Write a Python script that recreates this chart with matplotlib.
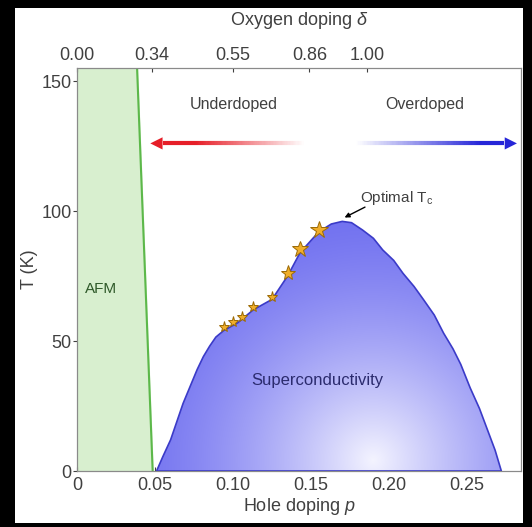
import numpy as np
import matplotlib
matplotlib.use("Agg")
import matplotlib.pyplot as plt
from matplotlib.patches import Polygon, Rectangle
from matplotlib.collections import LineCollection
from matplotlib.colors import LinearSegmentedColormap

plt.rcParams['font.family'] = ['Liberation Sans', 'DejaVu Sans']
plt.rcParams['mathtext.fontset'] = 'custom'
plt.rcParams['mathtext.it'] = 'Liberation Sans:italic'
plt.rcParams['mathtext.rm'] = 'Liberation Sans'

# superconducting dome outline (hole doping p, Tc in K)
dome_p = [0.051, 0.055, 0.060, 0.068, 0.077, 0.081, 0.085, 0.089, 0.094,
          0.103, 0.113, 0.125, 0.135, 0.143, 0.155, 0.163, 0.170, 0.176,
          0.183, 0.190, 0.196, 0.203, 0.209, 0.216, 0.222, 0.229, 0.235,
          0.241, 0.246, 0.252, 0.258, 0.263, 0.268, 0.272]
dome_T = [0, 5.5, 12, 26, 39, 44, 48, 51.5, 54,
          57, 62, 66, 75, 84, 92, 95, 96, 95.5,
          92.7, 89.5, 85, 81, 76, 71, 66, 60, 53,
          47, 41, 32, 24, 16, 8, 0]

# measured samples (stars)
star_p = [0.094, 0.100, 0.106, 0.113, 0.125, 0.135, 0.143, 0.155]
star_T = [55.5, 57.4, 59.1, 63.2, 66.8, 76.0, 85.3, 92.7]

# AFM boundary line (p at T=0 and at top)
afm_p = [0.0485, 0.0385]
afm_T = [0, 155]

x_ticks = [0, 0.05, 0.10, 0.15, 0.20, 0.25]
x_labels = ['0', '0.05', '0.10', '0.15', '0.20', '0.25']
y_ticks = [0, 50, 100, 150]
top_ticks = [0, 0.048, 0.100, 0.149, 0.186]
top_labels = ['0.00', '0.34', '0.55', '0.86', '1.00']

W, H = 532, 527
fig = plt.figure(figsize=(W / 100, H / 100), dpi=100)
fig.patch.set_facecolor('black')
fig.add_artist(Rectangle((15 / W, 4 / H), 508 / W, 515 / H,
                         transform=fig.transFigure, facecolor='white',
                         edgecolor='none', zorder=-10))

ax = fig.add_axes([77 / W, 1 - 471 / H, 444 / W, 403 / H])
ax.set_xlim(0, 0.2846)
ax.set_ylim(0, 155)
txt = '#404040'
spine_c = '#8a8a8a'

# AFM region
ax.fill_betweenx(afm_T, 0, afm_p, color='#d8efcf', zorder=1)
ax.plot(afm_p, afm_T, color='#5cb84a', lw=1.5, zorder=2)
ax.text(0.0155, 70, 'AFM', color='#2f5a2a', fontsize=11, ha='center', va='center')

# dome with radial gradient fill
poly = Polygon(np.column_stack([dome_p, dome_T]), closed=True,
               facecolor='none', edgecolor='#3b3bc8', lw=1.2, zorder=4)
ax.add_patch(poly)
gp = np.linspace(0.04, 0.28, 400)
gT = np.linspace(0, 100, 300)
PP, TT = np.meshgrid(gp, gT)
d = np.hypot((PP - 0.19) * 1560, (TT - 4) * 2.6)
w = np.clip(1 - d / 260, 0, 1) ** 1.5
blue = np.array([112, 112, 240]) / 255
white = np.array([244, 244, 255]) / 255
img = blue[None, None, :] * (1 - w[..., None]) + white[None, None, :] * w[..., None]
im = ax.imshow(img, extent=[0.04, 0.28, 0, 100], origin='lower',
               aspect='auto', zorder=3)
im.set_clip_path(poly)

ax.text(0.154, 35, 'Superconductivity', color='#2b2b6e', fontsize=12,
        ha='center', va='center', zorder=6)

# stars
star_sizes = [8, 8, 8, 8, 8, 11, 12, 13]
for p, T, s in zip(star_p, star_T, star_sizes):
    ax.plot(p, T, marker='*', ms=s, color='#f0ae2a', mec='#9c6a05',
            mew=0.7, zorder=7)

# optimal Tc annotation
ax.text(0.205, 105, 'Optimal T$_\\mathrm{c}$', fontsize=11, color=txt,
        ha='center', va='center')
ax.annotate('', xy=(0.1715, 97.5), xytext=(0.1846, 101.5),
            arrowprops=dict(arrowstyle='-|>', color='black', lw=1,
                            mutation_scale=7, shrinkA=0, shrinkB=0))

# gradient arrow underdoped/overdoped
x0, x1, ya = 0.047, 0.282, 126
cmap = LinearSegmentedColormap.from_list('rb', [
    (0, '#e61e28'), (0.12, '#e61e28'), (0.42, '#ffffff'),
    (0.56, '#ffffff'), (0.9, '#2626d8'), (1, '#2626d8')])
xs = np.linspace(x0 + 0.008, x1 - 0.008, 300)
segs = [[(xs[i], ya), (xs[i + 1], ya)] for i in range(len(xs) - 1)]
cols = cmap((xs[:-1] - x0) / (x1 - x0))
ax.add_collection(LineCollection(segs, colors=cols, lw=3, zorder=5))
ax.annotate('', xy=(x0, ya), xytext=(x0 + 0.012, ya),
            arrowprops=dict(arrowstyle='-|>', color='#e61e28', lw=0,
                            mutation_scale=22, shrinkA=0, shrinkB=0))
ax.annotate('', xy=(x1, ya), xytext=(x1 - 0.012, ya),
            arrowprops=dict(arrowstyle='-|>', color='#2626d8', lw=0,
                            mutation_scale=22, shrinkA=0, shrinkB=0))
ax.text(0.1006, 141, 'Underdoped', color=txt, fontsize=11.5, ha='center', va='center')
ax.text(0.223, 141, 'Overdoped', color=txt, fontsize=11.5, ha='center', va='center')

# axes
ax.set_xticks(x_ticks)
ax.set_xticklabels(x_labels)
ax.set_yticks(y_ticks)
ax.tick_params(axis='x', direction='in', length=3, labelsize=13, colors=txt, pad=4)
ax.tick_params(axis='y', direction='out', length=3, labelsize=13, colors=txt, pad=1)
ax.set_xlabel('Hole doping $p$', fontsize=13, color=txt, labelpad=2)
ax.set_ylabel('T (K)', fontsize=13, color=txt, labelpad=2)
for s in ax.spines.values():
    s.set_color(spine_c)

ax2 = ax.twiny()
ax2.set_xlim(ax.get_xlim())
ax2.set_xticks(top_ticks)
ax2.set_xticklabels(top_labels)
ax2.tick_params(axis='x', direction='in', length=3, labelsize=13, colors=txt, pad=3)
ax2.set_xlabel('Oxygen doping $\\delta$', fontsize=13, color=txt, labelpad=16)
for s in ax2.spines.values():
    s.set_color(spine_c)

fig.savefig('out.png', dpi=100, facecolor=fig.get_facecolor())
